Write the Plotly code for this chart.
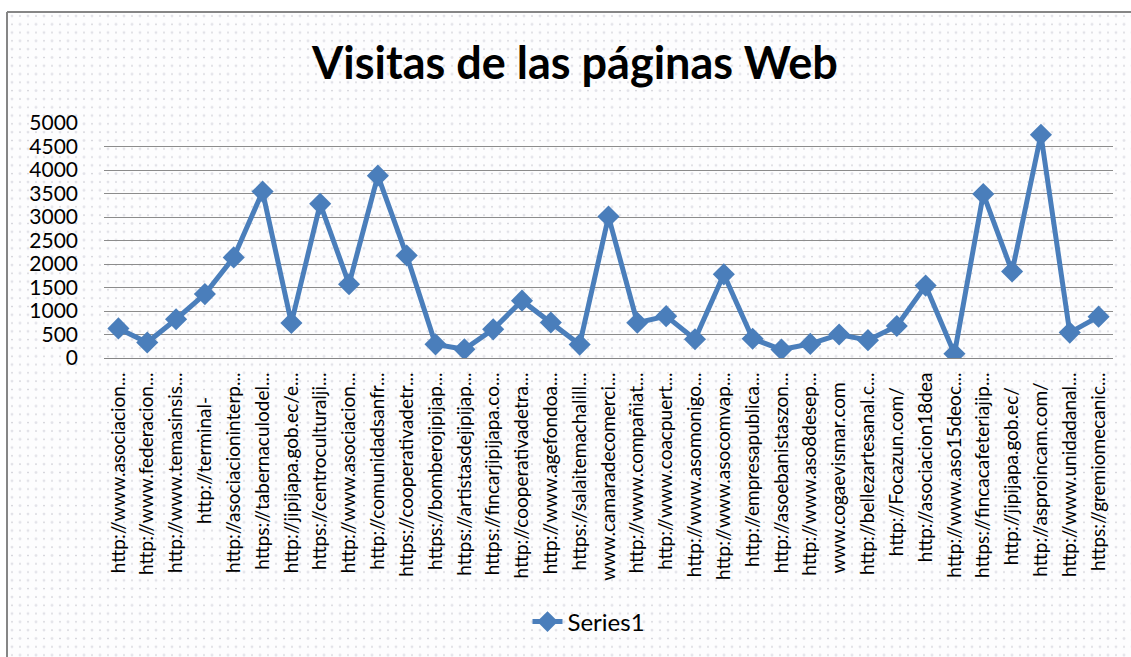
import base64
import plotly.graph_objects as go

# ---------------- data ----------------
sites = [
    "http://www.asociacion...", "http://www.federacion...", "http://www.temasinsis...",
    "http://terminal-", "http://asociacioninterp...", "https://tabernaculodel...",
    "http://jipijapa.gob.ec/e...", "https://centroculturalji...", "http://www.asociacion...",
    "http://comunidadsanfr...", "https://cooperativadetr...", "https://bomberojipijap...",
    "https://artistasdejipijap...", "https://fincarjipijapa.co...", "http://cooperativadetra...",
    "http://www.agefondoa...", "https://salaitemachalill...", "www.camaradecomerci...",
    "http://www.compañiat...", "http://www.coacpuert...", "http://www.asomonigo...",
    "http://www.asocomvap...", "http://empresapublica...", "http://asoebanistaszon...",
    "http://www.aso8desep...", "www.cogaevismar.com", "http://bellezartesanal.c...",
    "http://Focazun.com/", "http://asociacion18dea", "http://www.aso15deoc...",
    "https://fincacafeteriajip...", "http://jipijapa.gob.ec/", "http://asproincam.com/",
    "http://www.unidadanal...", "https://gremiomecanic...",
]
visitas = [
    630, 330, 825, 1360, 2140, 3540, 745, 3280, 1570, 3880,
    2180, 290, 185, 610, 1220, 755, 285, 3010, 750, 890,
    400, 1780, 410, 180, 300, 500, 380, 680, 1540, 90,
    3490, 1840, 4750, 540, 880,
]
label_pad = [0, 0, 0, 5, 0, 0, 0, 0, 0, 0,
             0, 0, 0, 0, 0, 0, 0, 0, 0, 0,
             0, 0, 0, 0, 0, 2, 0, 3, 0, 0,
             0, 3, 2, 0, 0]
y_ticks = [0, 500, 1000, 1500, 2000, 2500, 3000, 3500, 4000, 4500, 5000]

# ---------------- geometry (px) ----------------
W, H = 1131, 657
L, R, T, B = 104, 1113, 123, 358
pw, ph = R - L, B - T

def px_x(x):
    return (x - L) / pw

def px_y(y):
    return (B - y) / ph

FONT = "Lato, 'Open Sans', sans-serif"
BLUE = "#4a7ebb"

# dotted background pattern
svg = (
    '<svg xmlns="http://www.w3.org/2000/svg" width="1124" height="645">'
    '<defs><pattern id="p" width="16" height="16.6" patternUnits="userSpaceOnUse">'
    '<rect width="16" height="16.6" fill="#fdfdfe"/>'
    '<circle cx="5" cy="4" r="1.4" fill="#e2e2e8"/>'
    '<circle cx="13" cy="12.3" r="1.4" fill="#e2e2e8"/>'
    '<circle cx="13" cy="4" r="0.8" fill="#c4c4cc"/>'
    '<circle cx="5" cy="12.3" r="0.8" fill="#c4c4cc"/>'
    '</pattern></defs>'
    '<rect width="1124" height="645" fill="url(#p)"/></svg>'
)
src = "data:image/svg+xml;base64," + base64.b64encode(svg.encode()).decode()

ticktext = [s + "\u00a0" * n for s, n in zip(sites, label_pad)]

fig = go.Figure()
fig.add_trace(go.Scatter(
    x=list(range(len(sites))), y=visitas, name="Series1",
    mode="lines+markers",
    line=dict(color=BLUE, width=5),
    marker=dict(symbol="diamond", size=17, color=BLUE),
))

fig.update_layout(
    width=W, height=H,
    margin=dict(l=L, r=W - R, t=T, b=H - B, pad=0, autoexpand=False),
    paper_bgcolor="white",
    plot_bgcolor="white",
    font=dict(family=FONT, color="black"),
    title=dict(text="<b>Visitas de las páginas Web</b>", font=dict(size=45, family=FONT),
               x=575 / W, xanchor="center", xref="container",
               y=1 - 63 / H, yanchor="middle", yref="container"),
    showlegend=True,
    legend=dict(orientation="h", x=px_x(589), xanchor="center",
                y=px_y(622), yanchor="middle", font=dict(size=24, family=FONT),
                bgcolor="rgba(0,0,0,0)"),
    images=[dict(source=src, xref="paper", yref="paper",
                 x=px_x(7), y=px_y(12), sizex=(W - 7) / pw, sizey=(H - 12) / ph,
                 xanchor="left", yanchor="top", sizing="stretch", layer="below")],
    shapes=[
        dict(type="line", xref="paper", yref="paper", x0=px_x(7), x1=px_x(W + 5),
             y0=px_y(12), y1=px_y(12), line=dict(color="#868686", width=2)),
        dict(type="line", xref="paper", yref="paper", x0=px_x(7), x1=px_x(7),
             y0=px_y(12), y1=px_y(H + 5), line=dict(color="#868686", width=2)),
    ],
)
fig.update_xaxes(
    type="linear", range=[-0.5, len(sites) - 0.5], automargin=False,
    tickmode="array", tickvals=list(range(len(sites))), ticktext=ticktext,
    tickangle=-90, tickfont=dict(size=19, family=FONT), showgrid=False,
    zeroline=False, showline=True, linecolor="#868686", linewidth=1,
    ticks="", ticklabelstandoff=6,
)
fig.update_yaxes(
    range=[0, 5000], tickmode="array", tickvals=y_ticks, automargin=False,
    tickfont=dict(size=21, family=FONT), showgrid=True, gridcolor="#8c8c8c",
    gridwidth=1, zeroline=False, showline=False, ticks="", ticklabelstandoff=25,
)

fig.write_html("out.html", config={"displayModeBar": False},
               post_script="document.body.style.margin='0px';document.body.style.overflow='hidden';")
